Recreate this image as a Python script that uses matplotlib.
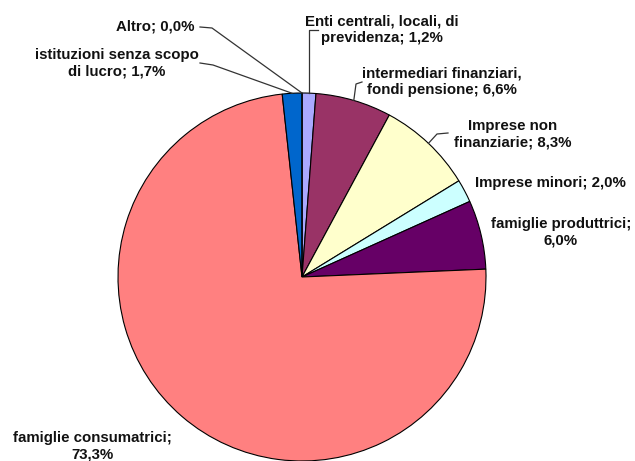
import numpy as np
import matplotlib.pyplot as plt

labels = ["Enti centrali, locali, di\nprevidenza; 1,2%",
          "intermediari finanziari,\nfondi pensione; 6,6%",
          "Imprese non\nfinanziarie; 8,3%",
          "Imprese minori; 2,0%",
          "famiglie produttrici;\n6,0%",
          "famiglie consumatrici;\n73,3%",
          "istituzioni senza scopo\ndi lucro; 1,7%",
          "Altro; 0,0%"]
values = [1.2, 6.6, 8.3, 2.0, 6.0, 73.3, 1.7, 0.0]
colors = ["#a9a9ff", "#993366", "#ffffcc", "#ccffff", "#660066",
          "#ff8080", "#0066cc", "#ccccff"]

W, H = 635, 461
fig = plt.figure(figsize=(W / 100, H / 100), dpi=100)
ax = fig.add_axes([0, 0, 1, 1])

cx, cy, r = 302, H - 277, 184
wedges, _ = ax.pie(values, colors=colors, startangle=90, counterclock=False,
                   center=(cx, cy), radius=r, frame=True,
                   wedgeprops=dict(edgecolor="black", linewidth=0.8))
ax.set_xlim(0, W)
ax.set_ylim(0, H)
ax.axis("off")

def rim(w):
    a = np.deg2rad((w.theta1 + w.theta2) / 2)
    return cx + r * np.cos(a), cy + r * np.sin(a)

# text placement (pixel coords from top-left) and leader elbows
place = [(382, 30), (442, 82), (513, 134), (550, 183), (561, 232),
         (92, 446), (117, 63), (155, 27)]
elbows = {0: [(306, 30), (318, 30)],
          1: [(356, 84), (362, 82)],
          2: [(437, 134), (448, 133)],
          6: [(213, 65), (200, 63)],
          7: [(212, 28), (200, 27)]}

for i, (lab, (tx, ty)) in enumerate(zip(labels, place)):
    ax.text(tx, H - ty, lab, ha="center", va="center", fontsize=10.8,
            fontweight="bold", family="Liberation Sans", linespacing=1.22,
            color="#111111")
    if i in elbows:
        px, py = rim(wedges[i])
        xs = [px] + [e[0] for e in elbows[i]]
        ys = [py] + [H - e[1] for e in elbows[i]]
        if i == 0:
            xs[1] = px
        ax.plot(xs, ys, color="#333333", lw=0.9)

fig.savefig("out.png", dpi=100)
